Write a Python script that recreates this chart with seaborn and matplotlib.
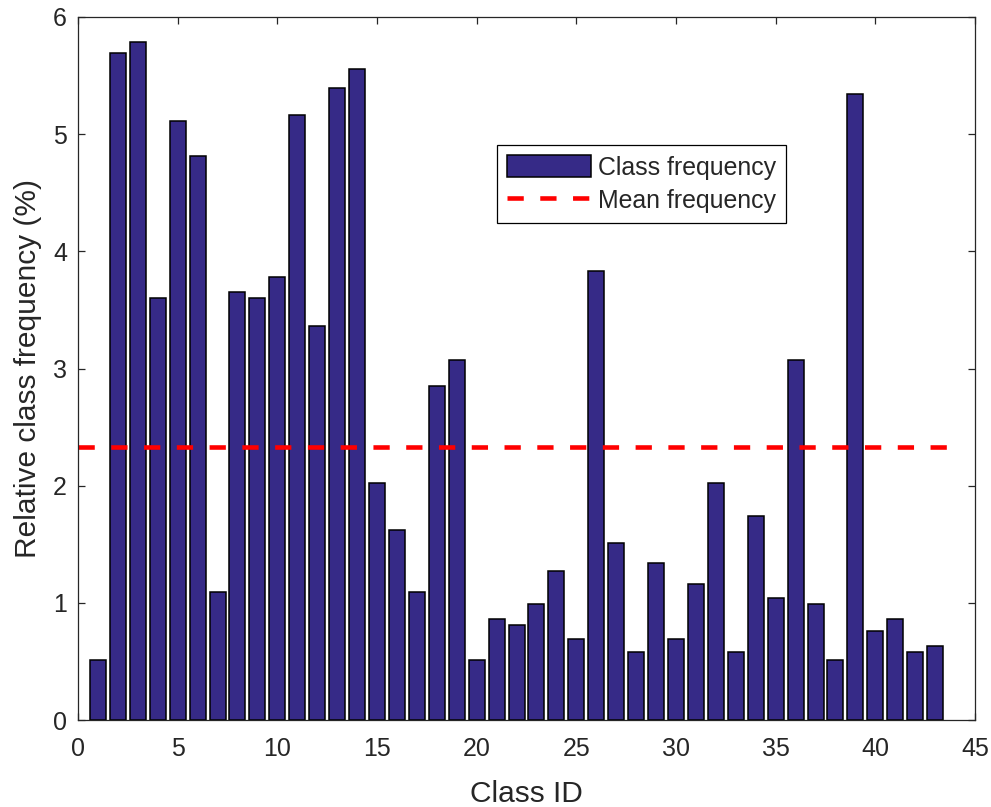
import numpy as np
import matplotlib
matplotlib.use("Agg")
import matplotlib.pyplot as plt
import seaborn as sns

# ---- data ----
class_ids = list(range(1, 44))
freqs = [0.51, 5.69, 5.79, 3.60, 5.11, 4.81, 1.09, 3.65, 3.60, 3.78,
         5.16, 3.36, 5.39, 5.56, 2.02, 1.62, 1.09, 2.85, 3.07, 0.51,
         0.86, 0.81, 0.99, 1.27, 0.69, 3.83, 1.51, 0.58, 1.34, 0.69,
         1.16, 2.02, 0.58, 1.74, 1.04, 3.07, 0.99, 0.51, 5.34, 0.76,
         0.86, 0.58, 0.63]
mean_x = [0, 44]
x_ticks = [0, 5, 10, 15, 20, 25, 30, 35, 40, 45]
y_ticks = [0, 1, 2, 3, 4, 5, 6]
series_labels = ["Class frequency", "Mean frequency"]
x_label = "Class ID"
y_label = "Relative class frequency (%)"

BAR_COLOR = "#362a87"
TEXT_COLOR = "#262626"

sns.set_theme(style="white")
plt.rcParams["font.family"] = ["Liberation Sans", "DejaVu Sans"]

fig = plt.figure(figsize=(9.91, 8.07), dpi=100)
ax = fig.add_axes([78 / 991, 87 / 807, 897 / 991, 703 / 807])

sns.barplot(x=class_ids, y=freqs, native_scale=True, color=BAR_COLOR,
            saturation=1, edgecolor="black", linewidth=1.1, width=0.8,
            errorbar=None, ax=ax)

mean_val = float(np.mean(freqs))
sns.lineplot(x=mean_x, y=[mean_val, mean_val], color="#ff0000",
             linewidth=3.3, sort=False, ax=ax)
mean_line = ax.lines[-1]
mean_line.set_linestyle((0, (3.55, 3.6)))

ax.set_xlim(0, 45)
ax.set_ylim(0, 6)
ax.set_xticks(x_ticks)
ax.set_yticks(y_ticks)
ax.set_xticklabels([str(t) for t in x_ticks])
ax.set_yticklabels([str(t) for t in y_ticks])

for s in ax.spines.values():
    s.set_visible(True)
    s.set_color(TEXT_COLOR)
    s.set_linewidth(0.9)

ax.tick_params(axis="both", which="major", direction="in", length=5,
               width=0.9, color=TEXT_COLOR, labelcolor=TEXT_COLOR,
               labelsize=18, top=True, right=True, bottom=True, left=True)
ax.tick_params(axis="x", pad=12)
ax.tick_params(axis="y", pad=8)

ax.set_xlabel(x_label, fontsize=21.5, color=TEXT_COLOR, labelpad=14)
ax.set_ylabel(y_label, fontsize=21.5, color=TEXT_COLOR, labelpad=8)

handles = [ax.containers[0], mean_line]
leg = ax.legend(handles, series_labels, loc="upper left",
                bbox_to_anchor=(0.467, 0.818), borderaxespad=0,
                fontsize=17.9, frameon=True, fancybox=False,
                edgecolor="black", framealpha=1, borderpad=0.4,
                handlelength=3.37, handleheight=1.0, handletextpad=0.3,
                labelspacing=0.36)
leg.get_frame().set_linewidth(0.9)
for t in leg.get_texts():
    t.set_color(TEXT_COLOR)

fig.savefig("out.png", dpi=100)
